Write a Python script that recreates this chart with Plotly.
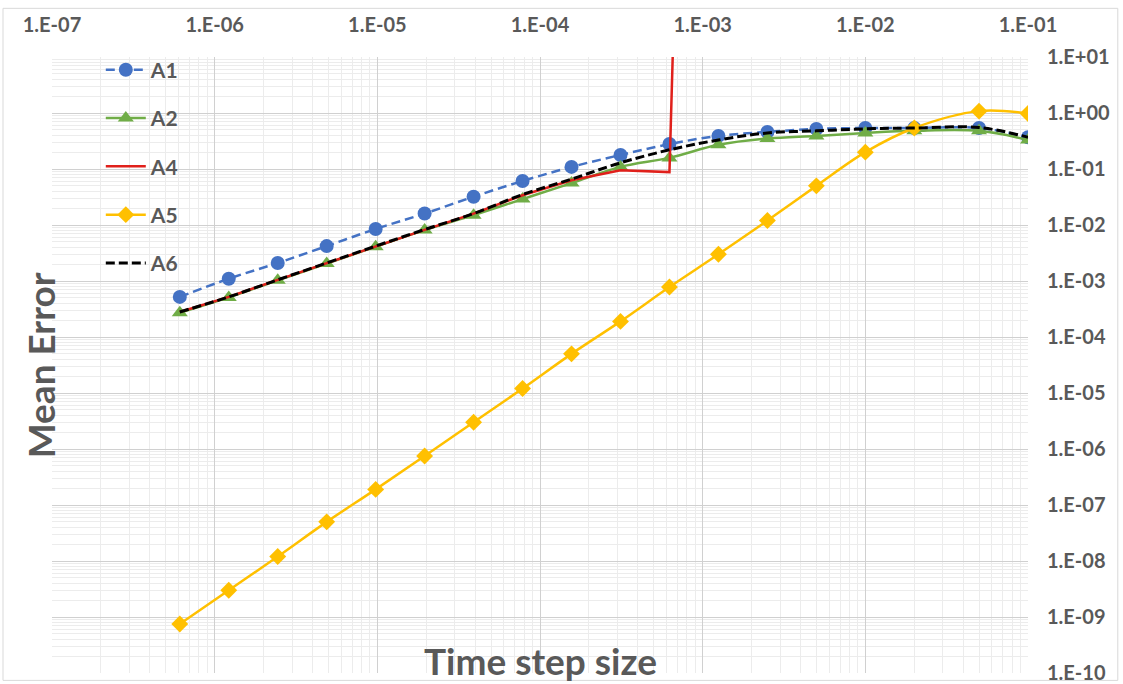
import plotly.graph_objects as go

# Time step sizes (s)
step_size = [6.1035e-07, 1.2207e-06, 2.4414e-06, 4.8828e-06, 9.7656e-06,
             1.9531e-05, 3.9063e-05, 7.8125e-05, 1.5625e-04, 3.1250e-04,
             6.2500e-04, 1.2500e-03, 2.5000e-03, 5.0000e-03, 1.0000e-02,
             2.0000e-02, 5.0000e-02, 1.0000e-01]

# Mean error per scheme
err_a1 = [5.2e-04, 1.1e-03, 2.1e-03, 4.2e-03, 8.5e-03, 1.6e-02, 3.2e-02, 6.1e-02,
          1.09e-01, 1.78e-01, 2.79e-01, 3.9e-01, 4.6e-01, 5.2e-01, 5.4e-01, 5.4e-01,
          5.4e-01, 3.7e-01]
err_a2 = [2.7e-04, 5.1e-04, 1.03e-03, 2.05e-03, 4.1e-03, 8.1e-03, 1.5e-02, 2.9e-02,
          5.6e-02, 1.09e-01, 1.58e-01, 2.7e-01, 3.5e-01, 3.9e-01, 4.4e-01, 4.8e-01,
          4.8e-01, 3.3e-01]
# A4 diverges beyond 6.25e-4
err_a4 = [2.8e-04, 5.2e-04, 1.05e-03, 2.1e-03, 4.2e-03, 8.2e-03, 1.6e-02, 3.4e-02,
          6.3e-02, 9.5e-02, 8.8e-02, 1.0e+30, None, None, None, None, None, None]
err_a5 = [7.5e-10, 3.0e-09, 1.2e-08, 5.0e-08, 1.9e-07, 7.5e-07, 3.0e-06, 1.2e-05,
          5.0e-05, 1.9e-04, 7.8e-04, 3.0e-03, 1.2e-02, 5.0e-02, 2.0e-01, 5.4e-01,
          1.08e+00, 9.8e-01]
err_a6 = [2.8e-04, 5.2e-04, 1.05e-03, 2.1e-03, 4.2e-03, 8.3e-03, 1.6e-02, 3.5e-02,
          6.6e-02, 1.29e-01, 2.2e-01, 3.3e-01, 4.4e-01, 4.8e-01, 5.2e-01, 5.4e-01,
          5.5e-01, 3.7e-01]

x_tick_vals = [1e-07, 1e-06, 1e-05, 1e-04, 1e-03, 1e-02, 1e-01]
x_tick_text = ["1.E-07", "1.E-06", "1.E-05", "1.E-04", "1.E-03", "1.E-02", "1.E-01"]
y_tick_vals = [1e-10, 1e-09, 1e-08, 1e-07, 1e-06, 1e-05, 1e-04, 1e-03, 1e-02,
               1e-01, 1e+00, 1e+01]
y_tick_text = ["1.E-10", "1.E-09", "1.E-08", "1.E-07", "1.E-06", "1.E-05",
               "1.E-04", "1.E-03", "1.E-02", "1.E-01", "1.E+00", "1.E+01"]

FONT = "Lato"
TXT = "#595959"

fig = go.Figure()

fig.add_trace(go.Scatter(
    x=step_size, y=err_a1, name="A1", legendgroup="A1",
    mode="lines+markers", line=dict(color="#4472C4", width=2.5, dash="9px,5px", shape="spline"),
    marker=dict(symbol="circle", size=14, color="#4472C4"),
))
fig.add_trace(go.Scatter(
    x=step_size, y=err_a2, name="A2", legendgroup="A2",
    mode="lines+markers", line=dict(color="#70AD47", width=2.5, shape="spline"),
    marker=dict(symbol="triangle-up", size=14, color="#70AD47"),
))
fig.add_trace(go.Scatter(
    x=step_size, y=err_a4, name="A4", legendgroup="A4",
    mode="lines", line=dict(color="#E0201B", width=2.5),
    connectgaps=False,
))
fig.add_trace(go.Scatter(
    x=step_size, y=err_a5, name="A5", legendgroup="A5",
    mode="lines+markers", line=dict(color="#FFC000", width=2.5, shape="spline"),
    marker=dict(symbol="diamond", size=13, color="#FFC000"),
))
fig.add_trace(go.Scatter(
    x=step_size, y=err_a6, name="A6", legendgroup="A6",
    mode="lines", line=dict(color="#000000", width=3, dash="9px,4px", shape="spline"),
))

axis_common = dict(
    type="log",
    automargin=False,
    showline=False,
    zeroline=False,
    ticks="",
    showgrid=True,
    gridcolor="#d0d0d0",
    gridwidth=1,
    minor=dict(dtick="D1", showgrid=True, gridcolor="#ececec", gridwidth=1, ticks=""),
    tickfont=dict(family=FONT, size=20, color=TXT, weight="bold"),
    tickmode="array",
)

fig.update_layout(
    width=1123, height=684,
    margin=dict(l=52, r=95, t=57, b=11),
    paper_bgcolor="white",
    plot_bgcolor="white",
    showlegend=True,
    legend=dict(
        x=0.05, y=1.012, xanchor="left", yanchor="top",
        bgcolor="rgba(255,255,255,0)",
        font=dict(family=FONT, size=21, color=TXT, weight="bold"),
        tracegroupgap=18,
        itemwidth=40,
    ),
    xaxis=dict(axis_common, side="top", range=[-7, -1],
               tickvals=x_tick_vals, ticktext=x_tick_text, ticklabelstandoff=20),
    yaxis=dict(axis_common, side="right", range=[-10, 1],
               tickvals=y_tick_vals, ticktext=y_tick_text, ticklabelstandoff=18),
    annotations=[
        dict(text="Mean Error", xref="paper", yref="paper", x=-0.012, y=0.5,
             textangle=-90, showarrow=False, xanchor="center", yanchor="middle",
             font=dict(family=FONT, size=37, color=TXT, weight="bold")),
        dict(text="Time step size", xref="paper", yref="paper", x=0.5, y=0.02,
             showarrow=False, xanchor="center", yanchor="middle",
             font=dict(family=FONT, size=37, color=TXT, weight="bold")),
    ],
    shapes=[
        dict(type="rect", xref="paper", yref="paper", x0=-0.0502, x1=1.092,
             y0=-0.012, y1=1.079, line=dict(color="#d9d9d9", width=1), layer="below"),
    ],
)

fig.write_html("out.html")
